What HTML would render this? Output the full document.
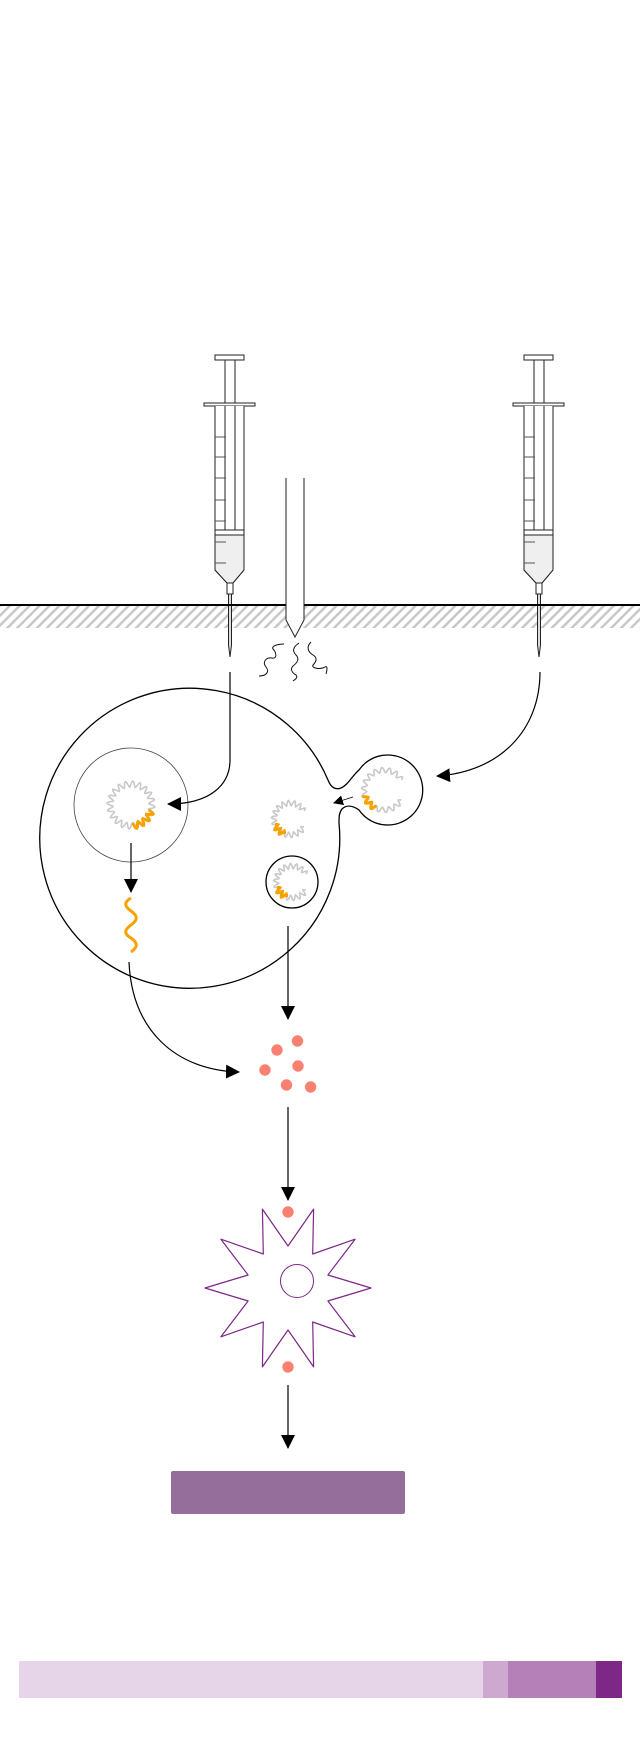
<!DOCTYPE html>
<html><head><meta charset="utf-8"><style>
html,body{margin:0;padding:0;background:#fff}
svg{display:block}
</style></head><body>
<svg id="s" width="640" height="1748" viewBox="0 0 640 1748" xmlns="http://www.w3.org/2000/svg">
<defs>
<pattern id="h" width="7" height="7" patternUnits="userSpaceOnUse" patternTransform="rotate(45)">
<rect x="0" y="0" width="2.5" height="7" fill="#c8c8c8"/>
</pattern>
<marker id="ah" markerWidth="10" markerHeight="10" refX="9" refY="5" orient="auto" markerUnits="userSpaceOnUse">
<path d="M0,0 L10,5 L0,10 Z" fill="#000"/>
</marker>
<marker id="ahL" markerWidth="14" markerHeight="14" refX="13" refY="7" orient="auto" markerUnits="userSpaceOnUse">
<path d="M0,0 L14,7 L0,14 Z" fill="#000"/>
</marker>
<g id="syr" fill="none" stroke="#222" stroke-width="1">
<rect x="215" y="355" width="29" height="5" fill="#fff"/>
<line x1="225" y1="360" x2="225" y2="530"/>
<line x1="235" y1="360" x2="235" y2="530"/>
<rect x="204" y="403" width="51" height="3" fill="#fff"/>
<path d="M215,406 L215,570 L227,583 L227,594 L233,594 L233,583 L244,570 L244,406" fill="#fff"/>
<path d="M215,535 L244,535 L244,570 L233,583 L227,583 L215,570 Z" fill="#efefef"/>
<rect x="215" y="530" width="29" height="5" fill="#fff"/>
<line x1="225" y1="406" x2="225" y2="530"/>
<line x1="235" y1="406" x2="235" y2="530"/>
<g stroke="#555"><line x1="215" y1="437" x2="226" y2="437"/><line x1="215" y1="457" x2="226" y2="457"/><line x1="215" y1="478" x2="226" y2="478"/><line x1="215" y1="500" x2="226" y2="500"/><line x1="215" y1="521" x2="226" y2="521"/><line x1="215" y1="542" x2="226" y2="542"/><line x1="215" y1="563" x2="226" y2="563"/></g>
<path d="M228.5,594 L228.5,645 L230,657 L231.5,645 L231.5,594 Z" fill="#ddd"/>
</g>
</defs>

<rect x="0" y="606" width="640" height="22" fill="url(#h)"/>
<use href="#syr"/>
<use href="#syr" transform="translate(309,0)"/>
<line x1="0" y1="605" x2="640" y2="605" stroke="#000" stroke-width="2"/>
<path d="M286,478 L286,620 L295,637 L304,620 L304,478" fill="#fff" stroke="#222" stroke-width="1"/>
<g fill="none" stroke="#111" stroke-width="1">
<path d="M259,676 C266,676 270,672 266,667 C262,662 266,657 272,658 C278,659 276,652 273,649 C271,646 278,644 284,644"/>
<path d="M299,643 C293,647 292,651 296,655 C300,659 297,663 293,666 C290,669 292,673 296,675 C298,677 296,679 293,681"/>
<path d="M311,642 C306,647 308,652 313,655 C318,658 316,662 313,665 C311,668 320,670 325,667 C328,665 327,671 326,674"/>
</g>

<path d="M339,823 A150,150 0 1 1 328,780 C331,788 336,790 341,788 C348,785 352,776 359,770 A35,35 0 1 1 359,810 C352,805 346,805 342,809 C339,813 339,817 339,823 Z" fill="none" stroke="#000" stroke-width="1.3"/>
<circle cx="131" cy="805" r="57" fill="none" stroke="#444" stroke-width="0.8"/>
<ellipse cx="292" cy="882" rx="26" ry="26" fill="none" stroke="#000" stroke-width="1.3"/>
<g id="plas"></g>

<g fill="none" stroke="#000" stroke-width="1.2">
<path d="M230,672 L230,760 C230,785 210,804 168,804" marker-end="url(#ahL)"/>
<path d="M540,672 C540,730 500,772 437,776" marker-end="url(#ahL)"/>
<path d="M353,797 L334,803" marker-end="url(#ah)" stroke-width="0.8"/>
<path d="M131,843 L131,892" marker-end="url(#ahL)"/>
<path d="M129,962 C132,1030 175,1070 239,1072" marker-end="url(#ahL)"/>
<path d="M288,926 L288,1019" marker-end="url(#ahL)"/>
<path d="M288,1107 L288,1200" marker-end="url(#ahL)"/>
<path d="M288,1385 L288,1448" marker-end="url(#ahL)"/>
</g>
<path d="M131,898 C124,902 124,906 131,911 C138,916 138,920 131,925 C124,930 124,934 131,938 C138,943 138,947 131,952" fill="none" stroke="#f7a200" stroke-width="3"/>

<g fill="#fa8072">
<circle cx="297.5" cy="1041" r="5.7"/><circle cx="277" cy="1050" r="5.7"/><circle cx="265" cy="1070" r="5.7"/>
<circle cx="298" cy="1066" r="5.7"/><circle cx="286.5" cy="1085" r="5.7"/><circle cx="310.6" cy="1087" r="5.7"/>
<circle cx="288" cy="1212" r="5.7"/><circle cx="288" cy="1367" r="5.7"/>
</g>
<path id="star" fill="none" stroke="#7d2787" stroke-width="1.2"/>
<circle cx="297" cy="1281" r="16.5" fill="none" stroke="#7d2787" stroke-width="1"/>

<rect x="171" y="1471" width="234" height="43" rx="2" fill="#966e9b"/>
<rect x="19" y="1661" width="464" height="37" fill="#e6d5e8"/>
<rect x="483" y="1661" width="25" height="37" fill="#cda8cf"/>
<rect x="508" y="1661" width="88" height="37" fill="#b57fb8"/>
<rect x="596" y="1661" width="26" height="37" fill="#7d2787"/>
</svg>
<script>
(function(){
var NS="http://www.w3.org/2000/svg",g=document.getElementById("plas");
function wav(cx,cy,r,amp,n,a0,a1){var p=[],st=Math.max(8,Math.round((a1-a0)/360*n*8));
for(var i=0;i<=st;i++){var a=(a0+(a1-a0)*i/st)*Math.PI/180;var rr=r+amp*Math.sin(a*n);p.push((cx+rr*Math.cos(a)).toFixed(1)+","+(cy+rr*Math.sin(a)).toFixed(1));}
return "M"+p.join(" L");}
function add(d,c,w){var e=document.createElementNS(NS,"path");e.setAttribute("d",d);e.setAttribute("fill","none");e.setAttribute("stroke",c);e.setAttribute("stroke-width",w);g.appendChild(e);}
add(wav(131,805,21,3,20,0,360),"#c8c8c8",1.6);
add(wav(131,805,21,3,20,15,85),"#f7a200",3);
[[290,819,16],[384,790,20],[292,882,16]].forEach(function(c,i){
add(wav(c[0],c[1],c[2],2.6,18,30,330),"#c8c8c8",1.6);
add(wav(c[0],c[1],c[2],2.6,18,i==1?115:110,i==1?165:160),"#f7a200",3);});
var cx=288,cy=1288,R=83,r=42,p=[];
for(var k=0;k<20;k++){var a=k*18*Math.PI/180,rr=(k%2==0)?R:r;p.push((cx+rr*Math.cos(a)).toFixed(1)+","+(cy+rr*Math.sin(a)).toFixed(1));}
var s=document.getElementById("star");
s.setAttribute("d","M"+p.join(" L")+" Z");
s.setAttribute("stroke-linejoin","round");
})();
</script>
</body></html>
